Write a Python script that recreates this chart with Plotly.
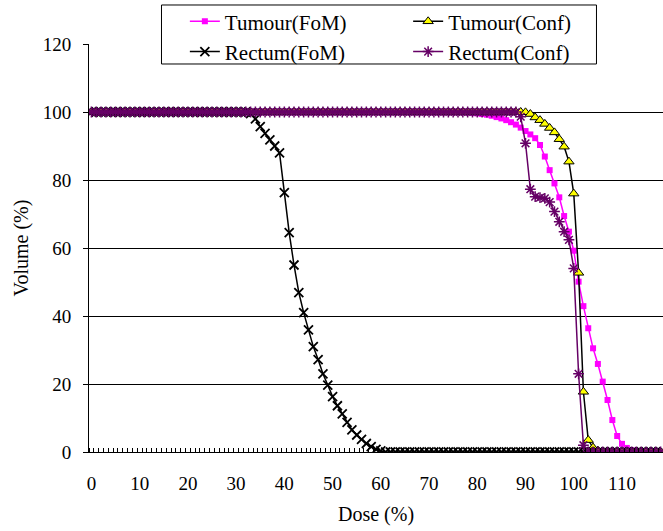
import plotly.graph_objects as go

# Dose axis: one category per percent of prescribed dose
dose = list(range(0, 119))

tumour_fom = [
    100, 100, 100, 100, 100, 100, 100, 100, 100, 100, 100, 100, 100, 100, 100, 100, 100, 100, 100, 100,
    100, 100, 100, 100, 100, 100, 100, 100, 100, 100, 100, 100, 100, 100, 100, 100, 100, 100, 100, 100,
    100, 100, 100, 100, 100, 100, 100, 100, 100, 100, 100, 100, 100, 100, 100, 100, 100, 100, 100, 100,
    100, 100, 100, 100, 100, 100, 100, 100, 100, 100, 100, 100, 100, 100, 100, 100, 100, 100, 99.9, 99.8,
    99.6, 99.4, 99.2, 98.9, 98.5, 98.1, 97.6, 97.0, 96.3, 95.4, 94.4, 93.4, 92.3, 90.3, 86.9, 82.9, 79.0, 74.9, 69.4, 64.8,
    59.2, 50.1, 42.9, 36.4, 30.5, 25.9, 20.7, 15.3, 9.4, 4.7, 2.4, 1.2, 0.5, 0.2, 0, 0, 0, 0, 0,
]

tumour_conf = [
    100, 100, 100, 100, 100, 100, 100, 100, 100, 100, 100, 100, 100, 100, 100, 100, 100, 100, 100, 100,
    100, 100, 100, 100, 100, 100, 100, 100, 100, 100, 100, 100, 100, 100, 100, 100, 100, 100, 100, 100,
    100, 100, 100, 100, 100, 100, 100, 100, 100, 100, 100, 100, 100, 100, 100, 100, 100, 100, 100, 100,
    100, 100, 100, 100, 100, 100, 100, 100, 100, 100, 100, 100, 100, 100, 100, 100, 100, 100, 100, 100,
    100, 100, 100, 100, 100, 100, 100, 100, 100, 100, 99.9, 99.4, 98.4, 97.6, 96.5, 95.3, 94.0, 92.0, 89.8, 85.4,
    76.0, 52.7, 17.7, 3.5, 1.3, 0.4, 0, 0, 0, 0, 0, 0, 0, 0, 0, 0, 0, 0, 0,
]

rectum_fom = [
    100, 100, 100, 100, 100, 100, 100, 100, 100, 100, 100, 100, 100, 100, 100, 100, 100, 100, 100, 100,
    100, 100, 100, 100, 100, 100, 100, 100, 100, 100, 100, 100, 100, 99.5, 98.0, 95.7, 93.7, 91.8, 90.0, 88.0,
    76.3, 64.5, 55.0, 46.9, 41.0, 35.9, 31.0, 27.2, 23.0, 19.7, 16.3, 13.6, 11.2, 8.7, 6.5, 5.0, 3.7, 2.5, 1.6, 0.8,
    0.3, 0, 0, 0, 0, 0, 0, 0, 0, 0, 0, 0, 0, 0, 0, 0, 0, 0, 0, 0,
    0, 0, 0, 0, 0, 0, 0, 0, 0, 0, 0, 0, 0, 0, 0, 0, 0, 0, 0, 0,
    0, 0, 0, 0, 0, 0, 0, 0, 0, 0, 0, 0, 0, 0, 0, 0, 0, 0, 0,
]

rectum_conf = [
    100, 100, 100, 100, 100, 100, 100, 100, 100, 100, 100, 100, 100, 100, 100, 100, 100, 100, 100, 100,
    100, 100, 100, 100, 100, 100, 100, 100, 100, 100, 100, 100, 100, 100, 100, 100, 100, 100, 100, 100,
    100, 100, 100, 100, 100, 100, 100, 100, 100, 100, 100, 100, 100, 100, 100, 100, 100, 100, 100, 100,
    100, 100, 100, 100, 100, 100, 100, 100, 100, 100, 100, 100, 100, 100, 100, 100, 100, 100, 100, 100,
    100, 100, 100, 100, 100, 100, 100, 100, 100, 98.6, 90.8, 77.3, 75.1, 74.8, 74.6, 73.5, 70.7, 67.7, 64.8, 62.4,
    54.0, 23.0, 2.0, 0, 0, 0, 0, 0, 0, 0, 0, 0, 0, 0, 0, 0, 0, 0, 0,
]

x_labels = list(range(0, 120, 10))
y_ticks = list(range(0, 121, 20))

FONT = "Liberation Serif"
PURPLE = "#660066"
MAGENTA = "#FF00FF"

fig = go.Figure()

fig.add_trace(go.Scatter(
    x=dose, y=tumour_fom, name="Tumour(FoM)", mode="lines+markers",
    line=dict(color=MAGENTA, width=1.5),
    marker=dict(symbol="square", size=6, color=MAGENTA),
    legend="legend",
))
fig.add_trace(go.Scatter(
    x=dose, y=tumour_conf, name="Tumour(Conf)", mode="lines+markers",
    line=dict(color="black", width=1.5),
    marker=dict(symbol="triangle-up", size=9, color="#FFFF00",
                line=dict(color="black", width=1)),
    legend="legend2",
))
fig.add_trace(go.Scatter(
    x=dose, y=rectum_fom, name="Rectum(FoM)", mode="lines+markers",
    line=dict(color="black", width=1.5),
    marker=dict(symbol="x-thin-open", size=9, color="black",
                line=dict(color="black", width=1.8)),
    legend="legend",
))
fig.add_trace(go.Scatter(
    x=dose, y=rectum_conf, name="Rectum(Conf)", mode="lines+markers",
    line=dict(color=PURPLE, width=1.5),
    marker=dict(symbol="asterisk-open", size=9, color=PURPLE,
                line=dict(color=PURPLE, width=1.5)),
    legend="legend2",
))

# Legend frame enclosing both legend columns (also masks the top gridline)
fig.add_shape(
    type="rect", xref="paper", yref="paper",
    x0=0.1263, x1=0.8841, y0=0.951, y1=1.0956,
    line=dict(color="black", width=1), fillcolor="white", layer="above",
)

legend_common = dict(
    font=dict(family=FONT, size=21, color="black"),
    bgcolor="rgba(0,0,0,0)", borderwidth=0,
    orientation="v", xanchor="left", yanchor="top",
    tracegroupgap=0, itemwidth=30,
)

fig.update_layout(
    width=663, height=531,
    margin=dict(l=89, r=0, t=44, b=79),
    paper_bgcolor="white", plot_bgcolor="white",
    font=dict(family=FONT, size=19, color="black"),
    showlegend=True,
    legend=dict(x=0.167, y=1.105, **legend_common),
    legend2=dict(x=0.556, y=1.105, **legend_common),
    xaxis=dict(
        range=[-0.5, 118.5],
        tickmode="array", tickvals=x_labels, ticktext=[str(v) for v in x_labels],
        ticks="", showgrid=False, zeroline=False,
        showline=True, linecolor="black", linewidth=1,
        tickfont=dict(family=FONT, size=19, color="black"),
        ticklabelstandoff=14,
        minor=dict(tickmode="linear", tick0=-0.5, dtick=1, ticks="inside",
                   ticklen=4, tickwidth=1, tickcolor="black", showgrid=False),
        title=dict(text="Dose (%)", font=dict(family=FONT, size=20, color="black"),
                   standoff=14),
    ),
    yaxis=dict(
        range=[0, 120],
        tickmode="array", tickvals=y_ticks,
        ticks="outside", ticklen=5, tickwidth=1, tickcolor="black",
        showgrid=True, gridcolor="black", gridwidth=1,
        zeroline=False, showline=True, linecolor="black", linewidth=1,
        tickfont=dict(family=FONT, size=19, color="black"),
        ticklabelstandoff=8,
        title=dict(text="Volume (%)", font=dict(family=FONT, size=20, color="black"),
                   standoff=8),
    ),
)

fig.write_html("out.html")
